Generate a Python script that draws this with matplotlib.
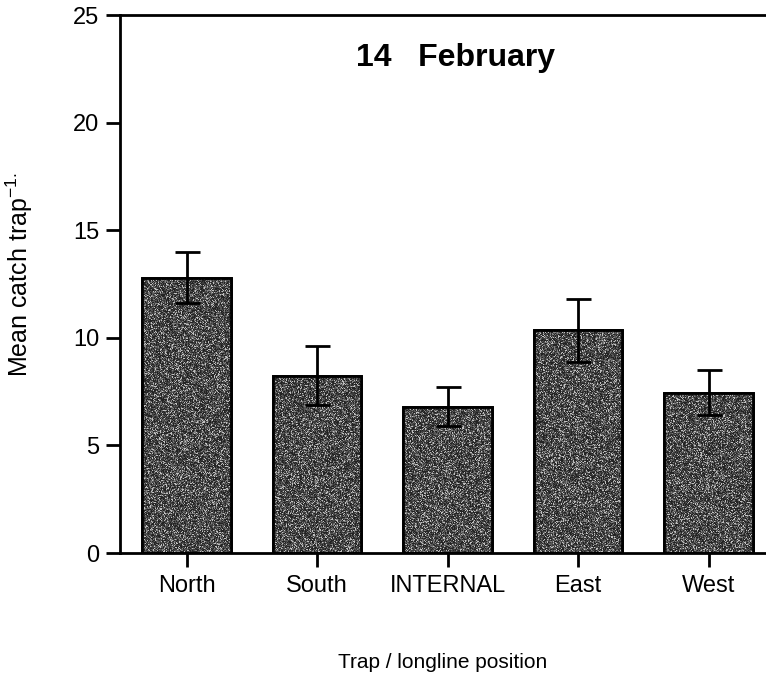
import matplotlib
matplotlib.use("Agg")
import matplotlib.pyplot as plt
import numpy as np

positions = ["North", "South", "INTERNAL", "East", "West"]
mean_catch = [12.8, 8.25, 6.8, 10.35, 7.45]
std_error = [1.2, 1.35, 0.9, 1.45, 1.05]
y_ticks = [0, 5, 10, 15, 20, 25]

plt.rcParams["font.family"] = ["Liberation Sans", "DejaVu Sans"]
plt.rcParams["mathtext.fontset"] = "custom"
plt.rcParams["mathtext.rm"] = "Liberation Sans"

fig = plt.figure(figsize=(7.66, 6.82), dpi=100)
ax = fig.add_axes([0.1567, 0.189, 0.8433, 0.789])

x = np.arange(len(positions))
bars = ax.bar(x, mean_catch, width=0.68, color="#555555", edgecolor="black",
              linewidth=2, zorder=2)

# stippled texture inside each bar
rng = np.random.default_rng(7)
tex = rng.choice([0.14, 0.24, 0.34, 0.5, 0.75], size=(300, 120),
                 p=[0.28, 0.26, 0.2, 0.16, 0.1])
for b in bars:
    im = ax.imshow(tex, cmap="gray", vmin=0, vmax=1, aspect="auto",
                   extent=[b.get_x(), b.get_x() + b.get_width(), 0, b.get_height()],
                   interpolation="nearest", zorder=2.5)
    im.set_clip_path(b)
    edge = plt.Rectangle((b.get_x(), 0), b.get_width(), b.get_height(),
                         fill=False, edgecolor="black", linewidth=2, zorder=3)
    ax.add_patch(edge)

ax.errorbar(x, mean_catch, yerr=std_error, fmt="none", ecolor="black",
            elinewidth=2, capsize=9, capthick=2, zorder=4)

ax.set_xlim(-0.51, 4.44)
ax.set_ylim(0, 25)
ax.set_yticks(y_ticks)
ax.set_xticks(x)
ax.set_xticklabels(positions)
ax.tick_params(axis="both", labelsize=17, width=2, length=10, direction="out")
ax.tick_params(axis="x", pad=6)
ax.tick_params(axis="y", pad=5)

for side in ["left", "bottom", "top"]:
    ax.spines[side].set_linewidth(2)
ax.spines["right"].set_visible(False)

ax.set_ylabel("Mean catch trap$^{\\mathregular{-1.}}$", fontsize=18)
ax.yaxis.set_label_coords(-0.131, 0.517)
ax.set_xlabel("Trap / longline position", fontsize=15, labelpad=40)
ax.text(0.52, 0.92, "14   February", transform=ax.transAxes, ha="center",
        va="center", fontsize=23, fontweight="bold")

fig.savefig("out.png", dpi=100)
